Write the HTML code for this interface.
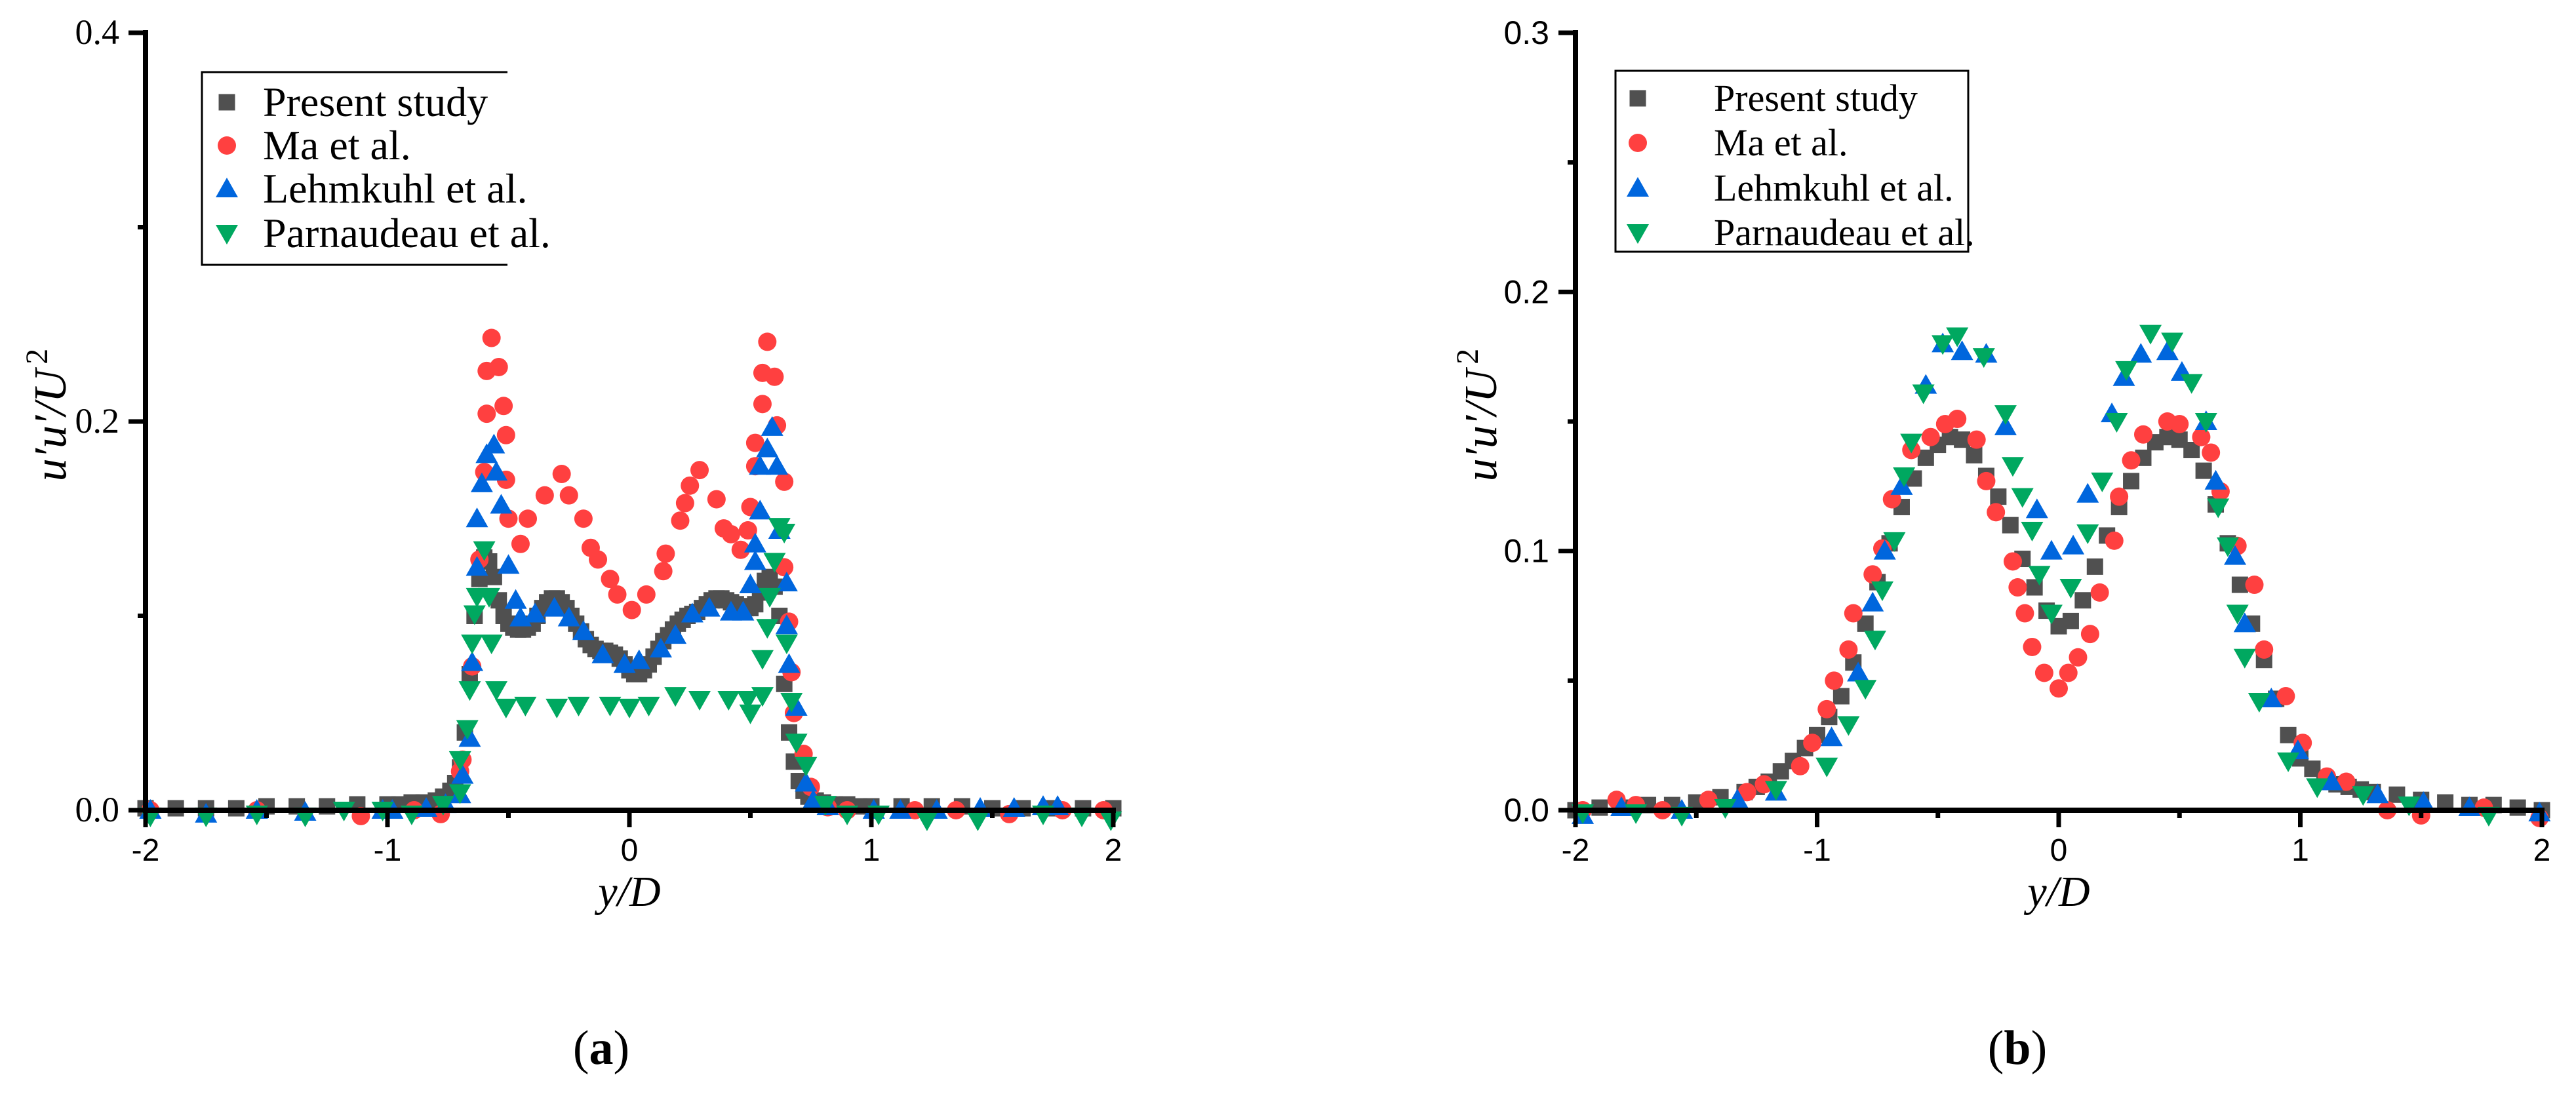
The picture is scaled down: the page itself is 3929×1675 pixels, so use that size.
<!DOCTYPE html>
<html><head><meta charset="utf-8"><style>
html,body{margin:0;padding:0;background:#fff;}
svg{display:block;}
.serif{font-family:"Liberation Serif","Times New Roman",serif;}
.sans{font-family:"Liberation Sans",Arial,sans-serif;}
</style></head><body>
<svg id="fig" width="3929" height="1675" viewBox="0 0 3929 1675" xmlns="http://www.w3.org/2000/svg">
<rect width="3929" height="1675" fill="#fff"/>
<g id="panelA"></g>
<g id="panelB"></g>
<text class="serif" x="917" y="1623" font-size="74" text-anchor="middle">(<tspan font-weight="bold">a</tspan>)</text>
<text class="serif" x="3077" y="1623" font-size="74" text-anchor="middle">(<tspan font-weight="bold">b</tspan>)</text>
</svg>
<script>
// ---------- Panel (a) data ----------
const aPresentX=[-2,-1.875,-1.75,-1.625,-1.5,-1.375,-1.25,-1.125,-1.0,-0.95,-0.9,-0.85,-0.8,-0.77,-0.74,-0.72,-0.70,-0.68,-0.66,-0.64,-0.62,-0.60,-0.58,-0.56,-0.54,-0.52,-0.50,-0.48,-0.46,-0.44,-0.42,-0.40,-0.38,-0.36,-0.34,-0.32,-0.30,-0.28,-0.26,-0.24,-0.22,-0.20,-0.18,-0.16,-0.14,-0.12,-0.10,-0.08,-0.06,-0.04,-0.02,0,0.02,0.04,0.06,0.08,0.10,0.12,0.14,0.16,0.18,0.20,0.22,0.24,0.26,0.28,0.30,0.32,0.34,0.36,0.38,0.40,0.42,0.44,0.46,0.48,0.50,0.52,0.54,0.56,0.58,0.60,0.62,0.64,0.66,0.68,0.70,0.72,0.74,0.77,0.8,0.85,0.9,0.95,1.0,1.125,1.25,1.375,1.5,1.625,1.75,1.875,2.0];
const aPresentY=[0.001,0.001,0.001,0.001,0.002,0.002,0.002,0.003,0.003,0.003,0.004,0.004,0.005,0.007,0.01,0.014,0.022,0.04,0.07,0.1,0.119,0.13,0.128,0.12,0.108,0.1,0.096,0.094,0.093,0.093,0.094,0.096,0.1,0.104,0.107,0.109,0.109,0.107,0.104,0.1,0.096,0.092,0.088,0.085,0.083,0.082,0.082,0.081,0.08,0.078,0.075,0.072,0.07,0.07,0.072,0.075,0.079,0.083,0.087,0.09,0.093,0.096,0.098,0.1,0.101,0.102,0.104,0.106,0.108,0.109,0.109,0.108,0.107,0.106,0.105,0.104,0.104,0.106,0.112,0.118,0.12,0.115,0.1,0.065,0.04,0.025,0.015,0.01,0.007,0.005,0.004,0.003,0.003,0.002,0.002,0.002,0.002,0.002,0.001,0.001,0.001,0.001,0.001];
const aMaX=[-1.98,-1.54,-1.11,-0.89,-0.78,-0.70,-0.69,-0.65,-0.62,-0.60,-0.59,-0.59,-0.57,-0.54,-0.52,-0.51,-0.51,-0.50,-0.45,-0.42,-0.35,-0.28,-0.25,-0.19,-0.16,-0.13,-0.08,-0.05,0.01,0.07,0.14,0.15,0.21,0.23,0.25,0.29,0.36,0.39,0.42,0.46,0.49,0.50,0.52,0.52,0.55,0.55,0.57,0.60,0.61,0.64,0.64,0.66,0.67,0.68,0.72,0.75,0.82,0.90,1.18,1.35,1.57,1.79,1.96];
const aMaY=[0,0,-0.003,0,-0.002,0.02,0.026,0.074,0.129,0.174,0.204,0.226,0.243,0.228,0.208,0.193,0.17,0.15,0.137,0.15,0.162,0.173,0.162,0.15,0.135,0.129,0.119,0.111,0.103,0.111,0.123,0.132,0.149,0.158,0.167,0.175,0.16,0.145,0.142,0.134,0.144,0.156,0.177,0.189,0.209,0.225,0.241,0.223,0.198,0.169,0.125,0.097,0.071,0.05,0.029,0.012,0.0015,0,0,0,-0.002,0,0];
const aLehX=[-1.98,-1.75,-1.54,-1.34,-1.02,-0.98,-0.84,-0.76,-0.70,-0.69,-0.66,-0.65,-0.63,-0.63,-0.61,-0.59,-0.56,-0.55,-0.53,-0.50,-0.47,-0.45,-0.39,-0.31,-0.25,-0.19,-0.11,-0.02,0.04,0.13,0.19,0.26,0.33,0.42,0.47,0.50,0.52,0.52,0.54,0.54,0.57,0.59,0.61,0.62,0.65,0.65,0.66,0.69,0.73,0.76,0.82,1.01,1.12,1.27,1.45,1.59,1.71,1.77];
const aLehY=[0,-0.002,0,-0.001,0,0,0.001,0.003,0.008,0.018,0.037,0.076,0.125,0.15,0.168,0.183,0.188,0.174,0.157,0.126,0.108,0.099,0.101,0.104,0.099,0.092,0.08,0.075,0.077,0.083,0.09,0.101,0.104,0.102,0.102,0.116,0.128,0.137,0.154,0.177,0.186,0.197,0.177,0.144,0.117,0.095,0.075,0.053,0.014,0.005,0.002,0,0,0,0.001,0.001,0.002,0.002];
const aParX=[-1.98,-1.75,-1.54,-1.34,-1.18,-1.02,-0.90,-0.77,-0.70,-0.70,-0.67,-0.66,-0.65,-0.64,-0.63,-0.60,-0.58,-0.57,-0.55,-0.51,-0.43,-0.30,-0.21,-0.08,0.00,0.08,0.19,0.29,0.41,0.49,0.50,0.55,0.55,0.57,0.58,0.60,0.62,0.64,0.65,0.67,0.69,0.73,0.81,0.90,1.03,1.23,1.44,1.71,1.87,1.99];
const aParY=[-0.003,-0.003,-0.002,-0.003,0,0,-0.002,0.003,0.009,0.026,0.042,0.062,0.086,0.101,0.11,0.134,0.11,0.086,0.062,0.053,0.054,0.053,0.054,0.054,0.053,0.054,0.059,0.057,0.057,0.057,0.05,0.059,0.078,0.094,0.11,0.128,0.146,0.143,0.086,0.056,0.035,0.023,0.003,-0.002,-0.002,-0.005,-0.005,-0.002,-0.003,-0.005];
const aYTicks=["0.0","0.2","0.4"];
const aYTickVals=[0,0.2,0.4];
// ---------- Panel (b) data ----------
const bPresentX=[-2,-1.9,-1.8,-1.7,-1.6,-1.5,-1.4,-1.3,-1.25,-1.2,-1.15,-1.1,-1.05,-1.0,-0.95,-0.9,-0.85,-0.8,-0.75,-0.7,-0.65,-0.6,-0.55,-0.5,-0.45,-0.4,-0.35,-0.3,-0.25,-0.2,-0.15,-0.1,-0.05,0,0.05,0.1,0.15,0.2,0.25,0.3,0.35,0.4,0.45,0.5,0.55,0.6,0.65,0.7,0.75,0.8,0.85,0.9,0.95,1.0,1.05,1.1,1.15,1.2,1.25,1.3,1.4,1.5,1.6,1.7,1.8,1.9,2.0];
const bPresentY=[0,0.001,0.001,0.002,0.002,0.003,0.005,0.007,0.009,0.011,0.015,0.019,0.024,0.029,0.036,0.044,0.057,0.072,0.088,0.103,0.117,0.128,0.136,0.141,0.144,0.143,0.137,0.129,0.121,0.11,0.097,0.086,0.077,0.071,0.073,0.081,0.094,0.106,0.117,0.127,0.136,0.142,0.144,0.143,0.139,0.131,0.118,0.103,0.087,0.072,0.058,0.043,0.029,0.02,0.016,0.012,0.01,0.009,0.008,0.007,0.006,0.004,0.003,0.002,0.002,0.001,0];
const bMaX=[-1.97,-1.83,-1.75,-1.64,-1.45,-1.29,-1.22,-1.07,-1.02,-0.96,-0.93,-0.87,-0.85,-0.77,-0.73,-0.69,-0.61,-0.53,-0.47,-0.42,-0.34,-0.30,-0.26,-0.19,-0.17,-0.14,-0.11,-0.06,0.00,0.04,0.08,0.13,0.17,0.23,0.25,0.30,0.35,0.45,0.50,0.59,0.63,0.67,0.74,0.81,0.85,0.94,1.01,1.11,1.19,1.36,1.50,1.76,1.99];
const bMaY=[0,0.004,0.002,0,0.004,0.007,0.01,0.017,0.026,0.039,0.05,0.062,0.076,0.091,0.101,0.12,0.139,0.144,0.149,0.151,0.143,0.127,0.115,0.096,0.086,0.076,0.063,0.053,0.047,0.053,0.059,0.068,0.084,0.104,0.121,0.135,0.145,0.15,0.149,0.144,0.138,0.123,0.102,0.087,0.062,0.044,0.026,0.013,0.011,0,-0.002,0.001,-0.003];
const bLehX=[-1.97,-1.81,-1.56,-1.33,-1.17,-0.94,-0.83,-0.77,-0.72,-0.65,-0.55,-0.48,-0.40,-0.30,-0.22,-0.09,-0.03,0.06,0.12,0.22,0.27,0.34,0.45,0.51,0.61,0.65,0.73,0.77,0.88,0.99,1.13,1.32,1.51,1.70,1.99];
const bLehY=[-0.002,0.001,0,0.004,0.007,0.028,0.053,0.08,0.1,0.125,0.164,0.18,0.177,0.176,0.148,0.116,0.1,0.102,0.122,0.153,0.167,0.176,0.177,0.169,0.15,0.127,0.098,0.072,0.043,0.023,0.011,0.006,0.003,0.001,-0.001];
const bParX=[-1.97,-1.75,-1.56,-1.38,-1.17,-0.96,-0.87,-0.80,-0.76,-0.73,-0.68,-0.64,-0.61,-0.56,-0.48,-0.42,-0.31,-0.22,-0.19,-0.15,-0.11,-0.08,-0.03,0.05,0.12,0.18,0.24,0.28,0.38,0.47,0.55,0.61,0.66,0.70,0.74,0.77,0.83,0.95,1.07,1.26,1.45,1.78];
const bParY=[-0.001,-0.001,-0.002,0.001,0.008,0.017,0.033,0.047,0.066,0.085,0.104,0.129,0.142,0.161,0.18,0.183,0.175,0.153,0.133,0.121,0.108,0.091,0.076,0.086,0.107,0.127,0.15,0.17,0.184,0.181,0.165,0.15,0.117,0.102,0.076,0.059,0.042,0.019,0.009,0.006,0.002,-0.002];
const bYTicks=["0.0","0.1","0.2","0.3"];
const bYTickVals=[0,0.1,0.2,0.3];
const xTicks=["-2","-1","0","1","2"];
const xTickVals=[-2,-1,0,1,2];
const seriesNames=["Present study","Ma et al.","Lehmkuhl et al.","Parnaudeau et al."];

const NS="http://www.w3.org/2000/svg";
function mk(parent,tag,attrs){const e=document.createElementNS(NS,tag);for(const k in attrs)e.setAttribute(k,attrs[k]);parent.appendChild(e);return e;}
const COLORS={sq:"#505050",ci:"#ff4040",up:"#0066dd",dn:"#00a860"};

function marker(g,type,cx,cy){
  let e;
  if(type==="sq"){e=mk(g,"rect",{x:cx-12.5,y:cy-12.5,width:25,height:25,fill:COLORS.sq});}
  else if(type==="ci"){e=mk(g,"circle",{cx:cx,cy:cy,r:14,fill:COLORS.ci});}
  else if(type==="up"){e=mk(g,"polygon",{points:`${cx},${cy-17} ${cx+17},${cy+13} ${cx-17},${cy+13}`,fill:COLORS.up});}
  else {e=mk(g,"polygon",{points:`${cx-17},${cy-13} ${cx+17},${cy-13} ${cx},${cy+17}`,fill:COLORS.dn});}
  return e;
}

function panel(g,cfg){
  const X0=cfg.x0,X1=cfg.x1,Y0=1236,Y1=50;
  const sx=v=>X0+(v+2)/4*(X1-X0);
  const sy=v=>Y0-v/cfg.ymax*(Y0-Y1);
  const types=["sq","ci","up","dn"];
  const names=["present-study","ma-et-al","lehmkuhl-et-al","parnaudeau-et-al"];
  cfg.series.forEach((s,i)=>{
    const sg=mk(g,"g",{});
    
    
    s[0].forEach((xv,j)=>{
      const m=marker(sg,types[i],sx(xv),sy(s[1][j]));
      
      
    });
  });
  const ax=mk(g,"g",{stroke:"#000","stroke-width":8,fill:"none"});
  
  
  mk(ax,"line",{x1:X0,y1:Y1-4,x2:X0,y2:Y0+4});
  mk(ax,"line",{x1:X0-4,y1:Y0,x2:X1+4,y2:Y0});
  const step=cfg.ymax===0.4?0.1:0.05;
  for(let v=0;v<=cfg.ymax+1e-9;v+=step){
    const major=cfg.yTickVals.some(t=>Math.abs(t-v)<1e-6);
    mk(ax,"line",{x1:X0-(major?26:12),y1:sy(v),x2:X0,y2:sy(v),"stroke-width":7});
  }
  for(let v=-2;v<=2+1e-9;v+=0.5){
    const major=Math.abs(v-Math.round(v))<1e-6;
    mk(ax,"line",{x1:sx(v),y1:Y0,x2:sx(v),y2:Y0+(major?26:12),"stroke-width":7});
  }
  cfg.yTickVals.forEach((v,i)=>{
    const t=mk(g,"text",{x:X0-40,y:sy(v)+17,"class":cfg.serifY?"serif":"sans","font-size":cfg.serifY?54:50,"text-anchor":"end"});
    t.textContent=cfg.yTicks[i];
    
    
  });
  xTickVals.forEach((v,i)=>{
    const t=mk(g,"text",{x:sx(v),y:1313,"class":"sans","font-size":48,"text-anchor":"middle"});
    t.textContent=xTicks[i];
    
    
  });
  const xt=mk(g,"text",{x:(X0+X1)/2,y:1382,"class":"serif","font-size":66,"font-style":"italic","text-anchor":"middle"});
  xt.textContent="y/D";
  
  
  const yt=mk(g,"text",{x:0,y:0,transform:`translate(${cfg.ytx},633) rotate(-90)`,"class":"serif","font-size":70,"font-style":"italic","text-anchor":"middle"});
  yt.innerHTML="u′u′/U<tspan dx='8' dy='-28' font-size='48' font-style='normal'>2</tspan>";
  
  
  const lg=mk(g,"g",{});
  
  
  const L=cfg.leg;
  if(L.closed) mk(lg,"rect",{x:L.x,y:L.y,width:L.w,height:L.h,fill:"#fff",stroke:"#000","stroke-width":3});
  else {mk(lg,"rect",{x:L.x,y:L.y,width:L.w,height:L.h,fill:"#fff"});
    mk(lg,"polyline",{points:`${L.x+L.w},${L.y} ${L.x},${L.y} ${L.x},${L.y+L.h} ${L.x+L.w},${L.y+L.h}`,fill:"none",stroke:"#000","stroke-width":3});}
  seriesNames.forEach((n,i)=>{
    const ry=L.rows[i];
    const m=marker(lg,types[i],L.mx,ry);
    
    
    const t=mk(lg,"text",{x:L.tx,y:ry+L.fs*0.33,"class":"serif","font-size":L.fs});
    t.textContent=n;
    
    
  });
}

panel(document.getElementById("panelA"),{x0:222,x1:1698,ymax:0.4,serifY:true,yTicks:aYTicks,yTickVals:aYTickVals,ytx:100,
  series:[[aPresentX,aPresentY],[aMaX,aMaY],[aLehX,aLehY],[aParX,aParY]],
  leg:{x:308,y:110,w:466,h:294,closed:false,mx:346,tx:401,fs:64,rows:[156,222,288,356]}});
panel(document.getElementById("panelB"),{x0:2403,x1:3877,ymax:0.3,serifY:false,yTicks:bYTicks,yTickVals:bYTickVals,ytx:2282,
  series:[[bPresentX,bPresentY],[bMaX,bMaY],[bLehX,bLehY],[bParX,bParY]],
  leg:{x:2464,y:108,w:538,h:276,closed:true,mx:2498,tx:2614,fs:58,rows:[150,218,287,355]}});
</script>
</body></html>
